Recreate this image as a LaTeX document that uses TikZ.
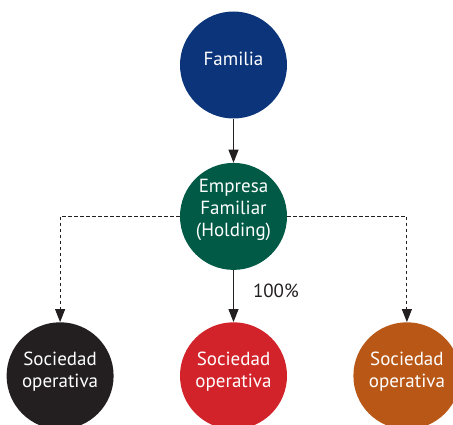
\documentclass[tikz,border=0pt]{standalone}
\usepackage{fontspec}
\setmainfont{PT Sans}
\usetikzlibrary{positioning,arrows.meta}
\definecolor{azul}{RGB}{11,52,122}
\definecolor{verde}{RGB}{0,90,70}
\definecolor{negro}{RGB}{35,31,32}
\definecolor{rojo}{RGB}{210,35,42}
\definecolor{naranja}{RGB}{184,87,22}
\definecolor{linea}{RGB}{35,31,32}
\tikzset{
	>={Triangle[length=13pt,width=10pt]},
	entidad/.style={
		circle,
		fill=#1,
		text=white,
		minimum size=107pt,
		inner sep=0pt,
		align=center,
		text depth=13pt,
		font=\fontsize{19}{22}\selectfont},
	line/.style={draw=linea, line width=1pt, ->},
	dline/.style={line, dash pattern=on 3.5pt off 2.5pt},
	etiqueta/.style={inner sep=0pt, text=linea, font=\fontsize{19}{22}\selectfont},
}
\begin{document}
\begin{tikzpicture}
	[x=1pt, y=1pt]
	\path[use as bounding box, clip] (0,0) rectangle (453,-425);
	\node[entidad=azul] (familia) at (233.5,-65) {Familia};
	\node[entidad=verde, below=44pt of familia, text depth=17pt] (holding) {Empresa\\Familiar\\(Holding)};
	\node[entidad=rojo, below=52pt of holding] (soc2) {Sociedad\\operativa};
	\node[entidad=negro, left=66pt of soc2] (soc1) {Sociedad\\operativa};
	\node[entidad=naranja, right=66pt of soc2] (soc3) {Sociedad\\operativa};
	% conexiones
	\path[line] (familia) -- (holding);
	\path[line] (holding) -- node[etiqueta, pos=0.4, right=19pt] (pct) {100\%} (soc2);
	\path[dline] (holding.west) -| (soc1.north);
	\path[dline] (holding.east) -| (soc3.north);
\end{tikzpicture}
\end{document}
